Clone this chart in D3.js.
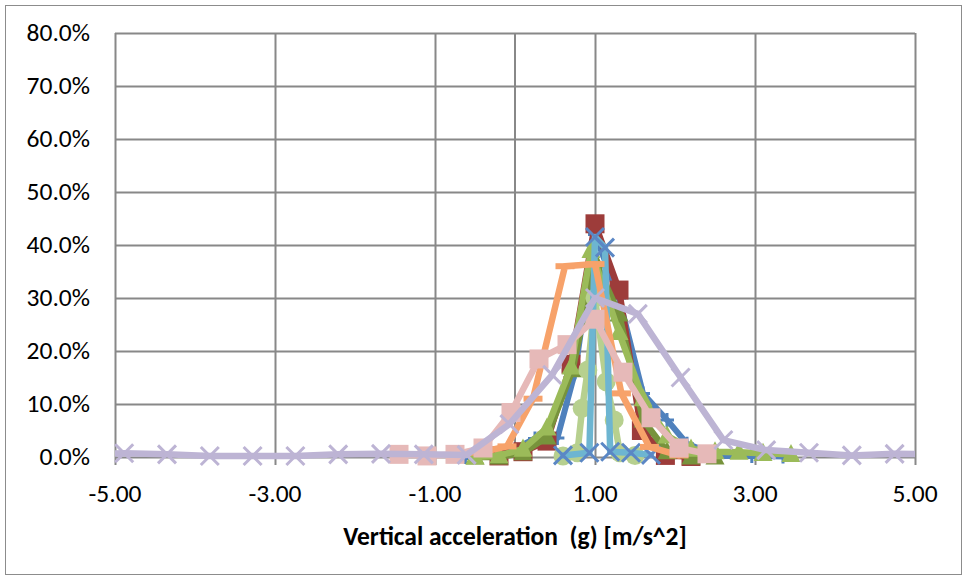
<!DOCTYPE html>
<html>
<head>
<meta charset="utf-8">
<script src="https://cdn.jsdelivr.net/npm/d3@7"></script>
<style>
  body { margin: 0; background: #fff; }
  text { font-family: Carlito, Calibri, Lato, "Open Sans", sans-serif; fill: #000; }
</style>
</head>
<body>
<svg id="chart" width="964" height="578"></svg>
<script>
// Axis definitions
const xTickValues = [-5, -3, -1, 1, 3, 5];
const yTickValues = [0, 10, 20, 30, 40, 50, 60, 70, 80];
const xAxisTitle = "Vertical acceleration  (g) [m/s^2]";

// Distribution series: bin centre (g) and share of samples (%)
const blueX = [-0.62, -0.2, 0.25, 0.53, 0.75, 1.0, 1.3, 1.6, 1.9, 2.15, 2.55, 2.96, 3.35];
const blueY = [0, 0, 3.5, 3.6, 16, 42, 30, 12, 7, 2.5, 0.2, 0.2, 0.1];

const redX = [-0.2, 0.1, 0.4, 0.7, 1.0, 1.3, 1.58, 1.88, 2.2];
const redY = [0.2, 1.0, 3.0, 17.5, 44, 31.5, 5, 0.3, 0.1];

const darkGreenX = [-0.5, -0.2, 0.1, 0.4, 0.72, 1.0, 1.3, 1.6, 1.9, 2.2, 2.5];
const darkGreenY = [0, 0, 0.8, 3.8, 16.5, 37, 27, 7, 1, 0, 0];

const greenX = [-0.5, -0.2, 0.1, 0.4, 0.7, 0.95, 1.3, 1.6, 1.9, 2.2, 2.5, 2.8, 3.1, 3.45];
const greenY = [0, 0.3, 1.5, 5.5, 17, 39, 23.5, 11, 4, 1.5, 1.0, 0.9, 0.7, 0.5];

const lightGreenX = [0.6, 0.78, 0.84, 0.91, 1.0, 1.14, 1.24, 1.31, 1.5];
const lightGreenY = [0.2, 0.8, 9.2, 16.4, 30, 14.2, 7, 0.8, 0.3];

const aquaX = [0.6, 0.93, 1.0, 1.125, 1.19, 1.45, 1.7];
const aquaY = [0.3, 0.8, 41.5, 39.5, 1.0, 0.8, 0.4];

const orangeX = [-0.45, -0.1, 0.225, 0.625, 1.0, 1.33, 1.68, 2.05];
const orangeY = [0.8, 2.0, 11, 36, 36.4, 12, 1.9, 0.3];

const pinkX = [-1.45, -1.1, -0.75, -0.4, -0.05, 0.3, 0.65, 1.0, 1.35, 1.7, 2.05, 2.4];
const pinkY = [0.5, 0.2, 0.5, 1.7, 8.4, 18.5, 21.2, 26, 16, 7.4, 1.7, 0.6];

const lavenderX = [-5.42, -4.885, -4.35, -3.815, -3.28, -2.745, -2.21, -1.675, -1.14, -0.605, -0.07, 0.465, 1.0, 1.535, 2.07, 2.605, 3.14, 3.675, 4.21, 4.745, 5.28];
const lavenderY = [0.6, 0.7, 0.5, 0.2, 0.2, 0.2, 0.5, 0.6, 0.5, 0.4, 6.2, 15.5, 30, 27, 15, 3.2, 1.3, 0.8, 0.3, 0.6, 0.5];

const svg = d3.select("#chart");
const W = 964, H = 578;
const plot = { left: 115, right: 915, top: 33, bottom: 457 };

const x = d3.scaleLinear().domain([-5, 5]).range([plot.left, plot.right]);
const y = d3.scaleLinear().domain([0, 80]).range([plot.bottom, plot.top]);

// Outer chart frame
svg.append("rect")
  .attr("x", 5.5).attr("y", 5.5)
  .attr("width", W - 8).attr("height", H - 9)
  .attr("fill", "#fff").attr("stroke", "#8c8c8c").attr("stroke-width", 1);

// Horizontal gridlines
svg.append("g")
  .attr("transform", `translate(${plot.left},0)`)
  .call(d3.axisLeft(y).tickValues(yTickValues).tickSize(-(plot.right - plot.left)).tickFormat(""))
  .call(g => g.select(".domain").remove())
  .call(g => g.selectAll("line").attr("stroke", "#888").attr("stroke-width", 2));

// Vertical gridlines with short outside ticks
svg.append("g")
  .attr("transform", `translate(0,${plot.bottom + 8})`)
  .call(d3.axisBottom(x).tickValues(xTickValues).tickSize(-(plot.bottom - plot.top + 8)).tickFormat(""))
  .call(g => g.select(".domain").remove())
  .call(g => g.selectAll("line").attr("stroke", "#888").attr("stroke-width", 2));

// Vertical value axis crossing at zero
svg.append("line")
  .attr("x1", x(0)).attr("x2", x(0))
  .attr("y1", plot.top).attr("y2", plot.bottom)
  .attr("stroke", "#888").attr("stroke-width", 2);

// Tick labels (plain hyphen for negatives)
const fmtX = v => d3.format(".2f")(v).replace("\u2212", "-");
svg.append("g").selectAll("text").data(yTickValues).join("text")
  .attr("x", 90).attr("y", d => y(d))
  .attr("dy", "0.33em")
  .attr("text-anchor", "end")
  .attr("font-size", 25.5)
  .text(d => d3.format(".1f")(d) + "%");

svg.append("g").selectAll("text").data(xTickValues).join("text")
  .attr("x", d => x(d)).attr("y", 502)
  .attr("text-anchor", "middle")
  .attr("font-size", 25.5)
  .text(fmtX);

svg.append("text")
  .attr("x", (plot.left + plot.right) / 2).attr("y", 545)
  .attr("text-anchor", "middle")
  .attr("font-size", 25.5).attr("font-weight", "bold")
  .style("white-space", "pre")
  .text(xAxisTitle);

// Clip lines horizontally to the plot area
svg.append("clipPath").attr("id", "plotClip")
  .append("rect").attr("x", plot.left).attr("y", 0)
  .attr("width", plot.right - plot.left).attr("height", H);

const series = [
  { xs: blueX, ys: blueY, color: "#4F81BD", width: 6, marker: "plus", mcolor: "#4F81BD" },
  { xs: redX, ys: redY, color: "#9D3C3A", width: 6.5, marker: "square", mcolor: "#9D3C3A" },
  { xs: darkGreenX, ys: darkGreenY, color: "#77933C", width: 6.5, marker: "triangle", mcolor: "#77933C" },
  { xs: greenX, ys: greenY, color: "#9BBB59", width: 6.5, marker: "triangle", mcolor: "#9BBB59" },
  { xs: lightGreenX, ys: lightGreenY, color: "#B7D08F", width: 6.5, marker: "circle", mcolor: "#B7D08F" },
  { xs: aquaX, ys: aquaY, color: "#6DB5D1", width: 6.5, marker: "x", mcolor: "#5B87C5" },
  { xs: orangeX, ys: orangeY, color: "#F7A26A", width: 6.5, marker: "dash", mcolor: "#F7A26A" },
  { xs: pinkX, ys: pinkY, color: "#E6B9B8", width: 6.5, marker: "square", mcolor: "#E6B9B8" },
  { xs: lavenderX, ys: lavenderY, color: "#BDB4D4", width: 6.5, marker: "x", mcolor: "#BDB4D4" }
];

const line = d3.line().x(d => x(d[0])).y(d => y(d[1]));

function drawMarker(g, px, py, kind, color) {
  if (kind === "square") {
    g.append("rect").attr("x", px - 9.5).attr("y", py - 9.5)
      .attr("width", 19).attr("height", 19).attr("fill", color);
  } else if (kind === "triangle") {
    const s = 19;
    g.append("path")
      .attr("d", `M${px},${py - s * 0.55}L${px + s / 2},${py + s * 0.4}L${px - s / 2},${py + s * 0.4}Z`)
      .attr("fill", color);
  } else if (kind === "circle") {
    g.append("circle").attr("cx", px).attr("cy", py).attr("r", 9.5).attr("fill", color);
  } else if (kind === "x") {
    const r = 9;
    g.append("path")
      .attr("d", `M${px - r},${py - r}L${px + r},${py + r}M${px - r},${py + r}L${px + r},${py - r}`)
      .attr("stroke", color).attr("stroke-width", 3).attr("fill", "none");
  } else if (kind === "dash") {
    g.append("rect").attr("x", px - 9.5).attr("y", py - 3)
      .attr("width", 19).attr("height", 6).attr("fill", color);
  } else if (kind === "plus") {
    const r = 7;
    g.append("path")
      .attr("d", `M${px},${py - r}L${px},${py + r}M${px - r},${py}L${px + r},${py}`)
      .attr("stroke", color).attr("stroke-width", 3).attr("fill", "none");
  }
}

series.forEach(s => {
  const pts = s.xs.map((v, i) => [v, s.ys[i]]);
  const g = svg.append("g");
  g.append("path")
    .attr("clip-path", "url(#plotClip)")
    .attr("d", line(pts))
    .attr("fill", "none")
    .attr("stroke", s.color)
    .attr("stroke-width", s.width)
    .attr("stroke-linejoin", "round")
    .attr("stroke-linecap", "round");
  pts.filter(p => p[0] >= -5 && p[0] <= 5)
    .forEach(p => drawMarker(g, x(p[0]), y(p[1]), s.marker, s.mcolor));
});
</script>
</body>
</html>
